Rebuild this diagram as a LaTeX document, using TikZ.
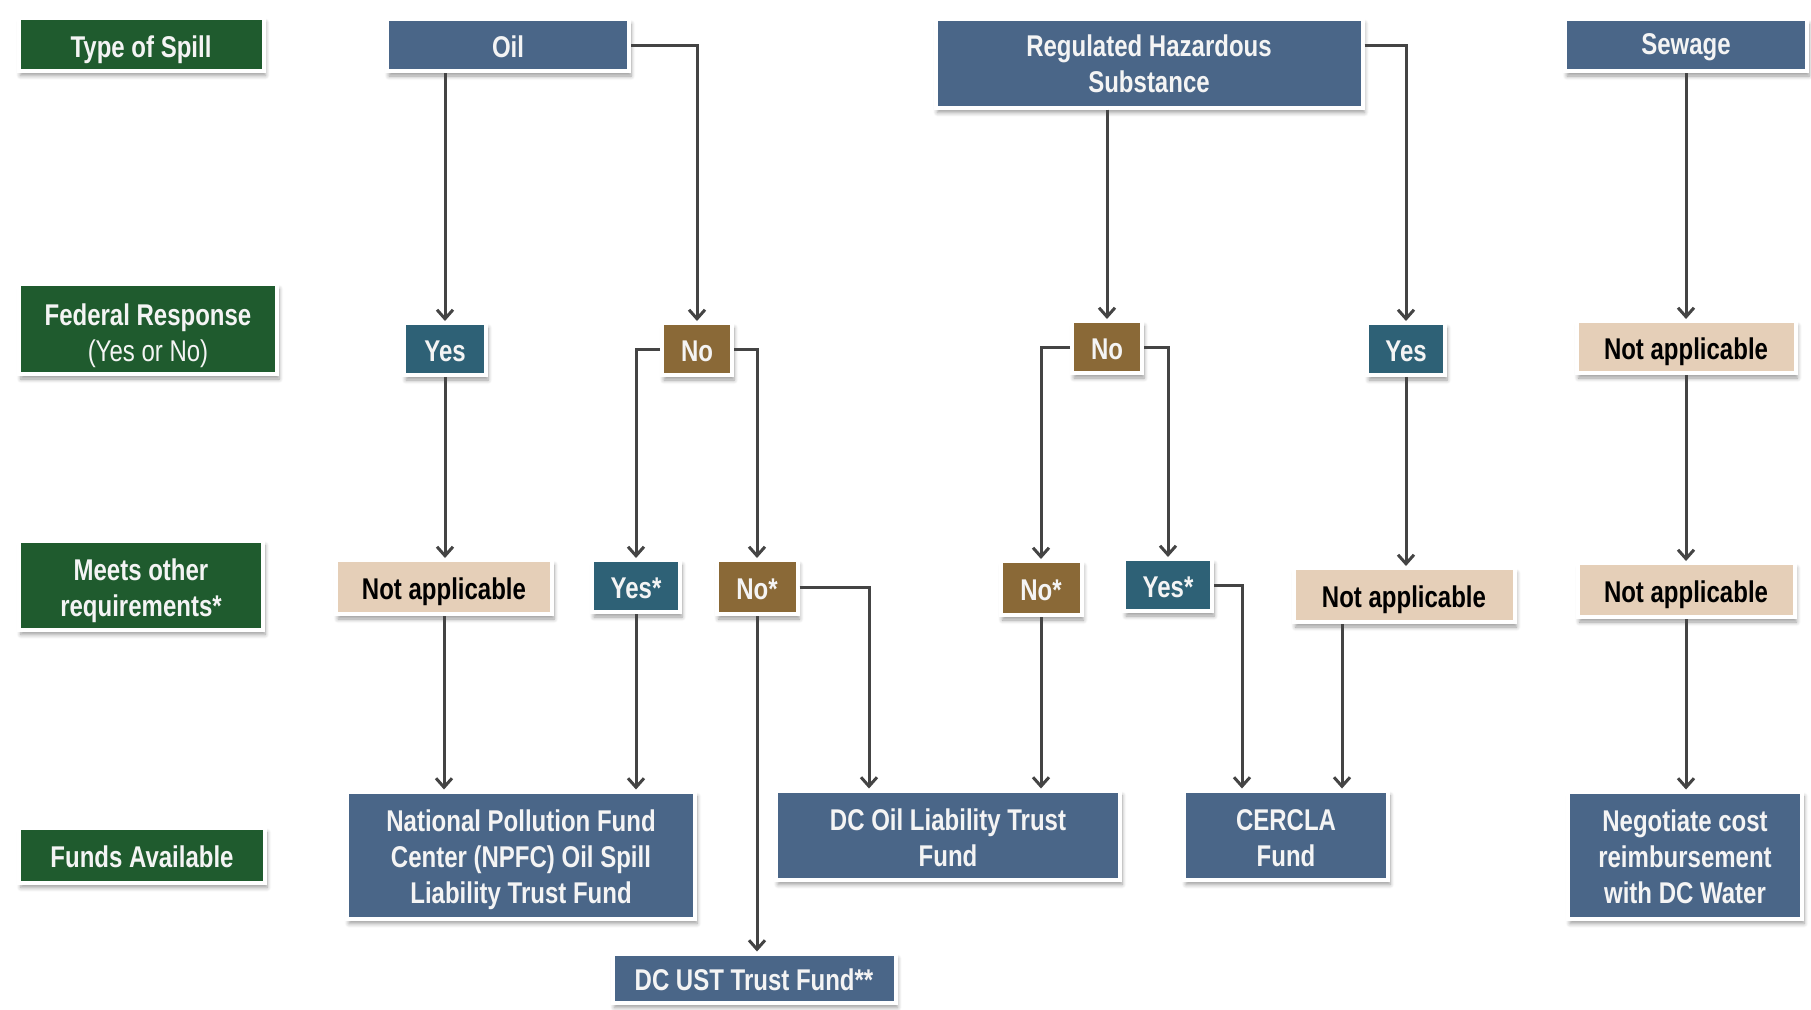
\documentclass[tikz,border=0pt]{standalone}
\usepackage{fontspec}
\setmainfont{Liberation Sans}[FakeStretch=0.8]
\usetikzlibrary{arrows.meta,shadows.blur}
\definecolor{sidegreen}{HTML}{1F5B2E}
\definecolor{slate}{HTML}{4A6688}
\definecolor{tealbox}{HTML}{2E6176}
\definecolor{brownbox}{HTML}{8A6937}
\definecolor{beigebox}{HTML}{E5CFB8}
\definecolor{linkgray}{HTML}{444444}
\definecolor{boxtext}{HTML}{F4F4F4}
% invisible strut that pads the first line of a box from the top
\newcommand\toppad[1]{\rule{0pt}{#1}}
\begin{document}
\begin{tikzpicture}[x=0.5pt,y=-0.5pt,
  boxbase/.style={rectangle, draw=white, line width=2pt, inner sep=2pt, align=center,
    font=\fontsize{15}{18}\selectfont\bfseries,
    execute at begin node={\toppad{12.8pt}},
    blur shadow={shadow xshift=1pt, shadow yshift=-2.5pt, shadow blur steps=6, shadow opacity=40}},
  sidelab/.style={boxbase, fill=sidegreen, text=boxtext},
  fundbox/.style={boxbase, fill=slate, text=boxtext},
  yesbox/.style={boxbase, fill=tealbox, text=boxtext},
  nobox/.style={boxbase, fill=brownbox, text=boxtext},
  nabox/.style={boxbase, fill=beigebox, text=black,
    execute at begin node={\toppad{16pt}}},
  link/.style={draw=linkgray, line width=1.5pt,
    -{Straight Barb[length=4.5pt,width=8pt,line width=1.5pt]}}
]
\useasboundingbox (0,0) rectangle (1811,1009);

% row labels
\node[sidelab, minimum width=122.5pt, minimum height=26.5pt] (t1) at (141,44)
  {\toppad{16.5pt}Type of Spill};
\node[sidelab, minimum width=129pt, minimum height=45pt] (t2) at (148,329)
  {\toppad{18pt}Federal Response\\{\mdseries (Yes or No)}};
\node[sidelab, minimum width=122pt, minimum height=44.5pt] (t3) at (141,585)
  {\toppad{17pt}Meets other\\requirements*};
\node[sidelab, minimum width=123pt, minimum height=27.5pt] (t4) at (142,855) {Funds Available};

% type of spill
\node[fundbox, minimum width=121pt, minimum height=26pt] (oil) at (508,45) {Oil};
\node[fundbox, minimum width=213.5pt, minimum height=44.5pt] (rhs) at (1149,63)
  {\toppad{12pt}Regulated Hazardous\\Substance};
\node[fundbox, minimum width=121pt, minimum height=26pt] (sew) at (1686,45) {Sewage};

% federal response
\node[yesbox, minimum width=41pt, minimum height=26pt] (yes1) at (445,349) {Yes};
\node[nobox, minimum width=35pt, minimum height=26pt] (no1) at (697,349) {No};
\node[nobox, minimum width=35pt, minimum height=26pt] (no2) at (1107,347) {No};
\node[yesbox, minimum width=39pt, minimum height=26pt] (yes2) at (1406,349) {Yes};
\node[nabox, minimum width=109.5pt, minimum height=26pt] (na1) at (1686,347) {Not applicable};

% other requirements
\node[nabox, minimum width=108pt, minimum height=27pt] (na2) at (444,587) {Not applicable};
\node[yesbox, minimum width=44pt, minimum height=26pt] (ys1) at (636,586) {Yes*};
\node[nobox, minimum width=40.5pt, minimum height=27pt] (nst1) at (757,587) {No*};
\node[nobox, minimum width=40.5pt, minimum height=27pt] (nst2) at (1041,588) {No*};
\node[yesbox, minimum width=44pt, minimum height=26pt] (ys2) at (1168,585) {Yes*};
\node[nabox, minimum width=110.5pt, minimum height=27pt] (na3) at (1404,595) {Not applicable};
\node[nabox, minimum width=108.5pt, minimum height=27pt] (na4) at (1686,590) {Not applicable};

% funds
\node[fundbox, minimum width=174pt, minimum height=63.5pt] (npfc) at (521,855)
  {\toppad{15.5pt}National Pollution Fund\\Center (NPFC) Oil Spill\\Liability Trust Fund};
\node[fundbox, minimum width=172pt, minimum height=44.5pt] (dcoil) at (948,835)
  {\toppad{14pt}DC Oil Liability Trust\\Fund};
\node[fundbox, minimum width=102pt, minimum height=44.5pt] (cercla) at (1286,835)
  {\toppad{14pt}CERCLA\\Fund};
\node[fundbox, minimum width=117pt, minimum height=63.5pt] (neg) at (1685,855)
  {\toppad{12.5pt}Negotiate cost\\reimbursement\\with DC Water};
\node[fundbox, minimum width=141.5pt, minimum height=24.5pt] (ust) at (754,978)
  {DC UST Trust Fund**};

% oil branch
\draw[link] (yes1 |- oil.south) -- (yes1.north);
\draw[link] (oil.east) -| (no1.north);
\draw[link] (yes1.south) -- (yes1.south |- na2.north);
\draw[link] (no1.west) -| (ys1.north);
\draw[link] (no1.east) -| (nst1.north);
\draw[link] (na2.south) -- (na2.south |- npfc.north);
\draw[link] (ys1.south) -- (ys1.south |- npfc.north);
\draw[link] (nst1.south) -- (nst1.south |- ust.north);
\draw[link] (nst1.east) -| ([xshift=-39.5pt]dcoil.north);

% hazardous substance branch
\draw[link] (no2 |- rhs.south) -- (no2.north);
\draw[link] (rhs.east |- oil.east) -| (yes2.north);
\draw[link] (no2.west) -| (nst2.north);
\draw[link] (no2.east) -| (ys2.north);
\draw[link] (yes2.south) -- (yes2.south |- na3.north);
\draw[link] (nst2.south) -- (nst2.south |- dcoil.north);
\draw[link] (ys2.east) -| ([xshift=-22pt]cercla.north);
\draw[link] ([xshift=-31pt]na3.south) -- ([xshift=-31pt]na3.south |- cercla.north);

% sewage branch
\draw[link] (sew.south) -- (sew.south |- na1.north);
\draw[link] (na1.south) -- (na1.south |- na4.north);
\draw[link] (na4.south) -- (na4.south |- neg.north);
\end{tikzpicture}
\end{document}
